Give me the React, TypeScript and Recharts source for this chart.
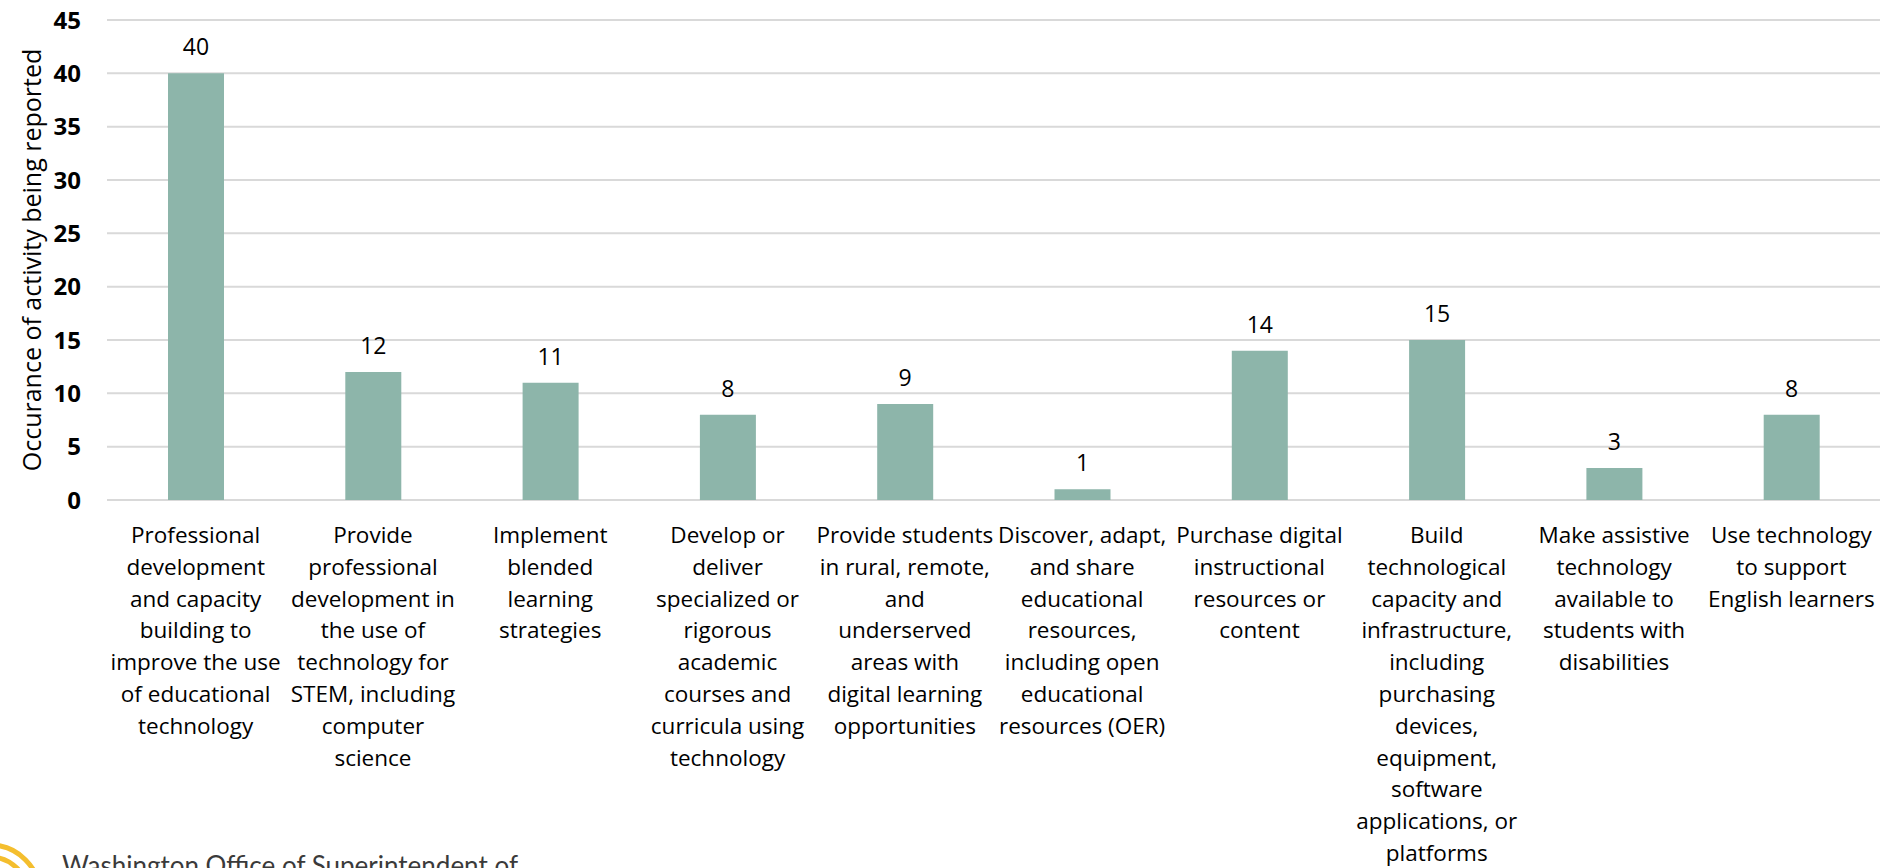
import React from "react";
import { BarChart, Bar, XAxis, YAxis, CartesianGrid, LabelList } from "recharts";

const categories: string[] = [
  "Professional\ndevelopment\nand capacity\nbuilding to\nimprove the use\nof educational\ntechnology",
  "Provide\nprofessional\ndevelopment in\nthe use of\ntechnology for\nSTEM, including\ncomputer\nscience",
  "Implement\nblended\nlearning\nstrategies",
  "Develop or\ndeliver\nspecialized or\nrigorous\nacademic\ncourses and\ncurricula using\ntechnology",
  "Provide students\nin rural, remote,\nand\nunderserved\nareas with\ndigital learning\nopportunities",
  "Discover, adapt,\nand share\neducational\nresources,\nincluding open\neducational\nresources (OER)",
  "Purchase digital\ninstructional\nresources or\ncontent",
  "Build\ntechnological\ncapacity and\ninfrastructure,\nincluding\npurchasing\ndevices,\nequipment,\nsoftware\napplications, or\nplatforms",
  "Make assistive\ntechnology\navailable to\nstudents with\ndisabilities",
  "Use technology\nto support\nEnglish learners",
];

const occurrences: number[] = [40, 12, 11, 8, 9, 1, 14, 15, 3, 8];

const yTicks: number[] = [0, 5, 10, 15, 20, 25, 30, 35, 40, 45];

const yTitle = "Occurance of activity being reported";
const footerText = "Washington Office of Superintendent of";

const data = categories.map((c, i) => ({ category: c, value: occurrences[i] }));

const FONT = "'Open Sans', 'Noto Sans', sans-serif";

const CategoryTick = (props: any) => {
  const { x, y, payload } = props;
  const lines = String(payload.value).split("\n");
  return (
    <text x={x} y={y} textAnchor="middle" fontSize={22.5} fill="#000" fontFamily={FONT}>
      {lines.map((l, i) => (
        <tspan key={i} x={x} y={y + 43 + i * 31.8}>
          {l}
        </tspan>
      ))}
    </text>
  );
};

const ValueLabel = (props: any) => {
  const { x, y, width, value } = props;
  return (
    <text
      x={Number(x) + Number(width) / 2}
      y={Number(y) - 18}
      textAnchor="middle"
      fontSize={23}
      fill="#000"
      fontFamily={FONT}
    >
      {value}
    </text>
  );
};

const YTitle = (props: any) => {
  const vb = props.viewBox || { x: 0, y: 20, width: 107, height: 480 };
  const cx = 31;
  const cy = vb.y + vb.height / 2;
  return (
    <text
      x={cx}
      y={cy}
      transform={`rotate(-90 ${cx} ${cy})`}
      textAnchor="middle"
      dominantBaseline="central"
      fontSize={25}
      fill="#000"
      fontFamily={FONT}
    >
      {yTitle}
    </text>
  );
};

export default function App() {
  return (
    <div style={{ position: "absolute", left: 0, top: 0, width: 1880, height: 868, overflow: "hidden", background: "#fff" }}>
      <BarChart width={1880} height={868} data={data} margin={{ top: 20, right: 0, bottom: 0, left: 0 }}>
        <CartesianGrid vertical={false} stroke="#d9d9d9" strokeWidth={2} />
        <XAxis
          dataKey="category"
          interval={0}
          height={368}
          axisLine={false}
          tickLine={false}
          tickSize={0}
          tickMargin={0}
          tick={<CategoryTick />}
        />
        <YAxis
          width={107}
          domain={[0, 45]}
          ticks={yTicks}
          axisLine={false}
          tickLine={false}
          tickSize={0}
          tickMargin={26}
          tick={{ fontSize: 24, fontWeight: 700, fill: "#000", fontFamily: FONT }}
          label={<YTitle />}
        />
        <Bar dataKey="value" fill="#8DB5AA" barSize={56} isAnimationActive={false}>
          <LabelList dataKey="value" content={<ValueLabel />} />
        </Bar>
      </BarChart>
      <svg width={1880} height={868} style={{ position: "absolute", left: 0, top: 0, pointerEvents: "none" }}>
        <circle cx={-10} cy={895} r={50} fill="none" stroke="#F4BE2E" strokeWidth={5} />
        <circle cx={-10} cy={895} r={38} fill="none" stroke="#F4BE2E" strokeWidth={5} />
        <text x={62} y={875} fontSize={26} fill="#3a3a3a" fontFamily="Lato, sans-serif">
          {footerText}
        </text>
      </svg>
    </div>
  );
}
